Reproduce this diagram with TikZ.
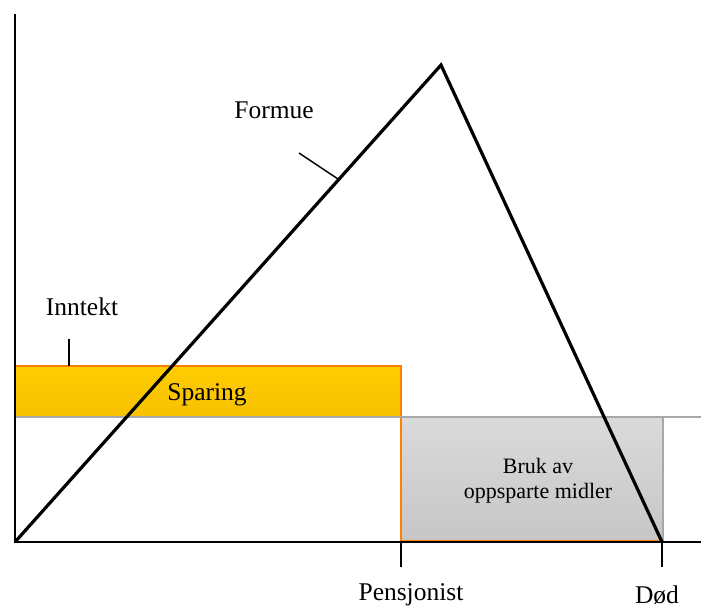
\documentclass[tikz,border=0pt]{standalone}
\usepackage{fontspec}
\setmainfont{Liberation Serif}
\definecolor{sparyellow}{HTML}{FFCB00}
\definecolor{sparyellowdark}{HTML}{F7C200}
\definecolor{edgeorange}{HTML}{FF7F00}
\definecolor{linegray}{HTML}{A8A8A8}
\definecolor{boxgraytop}{HTML}{DADADA}
\definecolor{boxgraybot}{HTML}{C6C6C6}
\tikzset{
  axisline/.style={black, line width=1.8pt},
  wealthline/.style={black, line width=3.2pt, line join=miter},
  leader/.style={black, line width=1.4pt},
  orangeedge/.style={edgeorange, line width=2.8pt},
  label/.style={font=\fontsize{25.5}{28}\selectfont, inner sep=0pt},
  smalllabel/.style={font=\fontsize{22}{25}\selectfont, inner sep=0pt, align=center},
}
\begin{document}
\begin{tikzpicture}[x=1pt,y=-1pt]
\useasboundingbox (0,0) rectangle (701,605);

% key points
\coordinate (origin) at (15,542);
\coordinate (ytop) at (15,14);
\coordinate (xend) at (701,542);
\coordinate (peak) at (441,65);
\coordinate (death) at (662,542);
\coordinate (retire) at (401,542);

% savings band (income above consumption)
\shade[top color=sparyellow, bottom color=sparyellowdark] (15,366) rectangle (401,416);
\draw[orangeedge] (15,366) -- (401,366) -- (401,416);

% drawdown area after retirement
\shade[top color=boxgraytop, bottom color=boxgraybot] (401,418) rectangle (663,541);
\draw[linegray, line width=1.2pt] (663,418) -- (663,541);
\draw[orangeedge] (401,418) -- (401,541) -- (662,541);

% consumption level
\draw[linegray, line width=2.8pt] (15,417) -- (701,417);

% axes and ticks
\draw[axisline] (ytop) -- (origin) -- (xend);
\draw[axisline] (retire) -- ++(0,25);
\draw[axisline] (death) -- ++(0,25);

% wealth path
\draw[wealthline] (origin) -- (peak) -- (death);

% labels
\node[label] (formue) at (274,110) {Formue};
\coordinate (formueend) at (299,153);
\coordinate (formuehit) at (338,179);
\draw[leader] (formueend) -- (formuehit);

\node[label] (inntekt) at (82,307) {Inntekt};
\coordinate (inntektend) at (69,339);
\coordinate (inntekthit) at (69,366);
\draw[leader] (inntektend) -- (inntekthit);

\node[label] (sparing) at (207,395) {Sparing};
\node[smalllabel] (bruk) at (538,481) {Bruk av\\oppsparte midler};

\node[label] (pensjonist) at (411,595) {Pensjonist};
\node[label] (dod) at (657,595) {Død};
\end{tikzpicture}
\end{document}
